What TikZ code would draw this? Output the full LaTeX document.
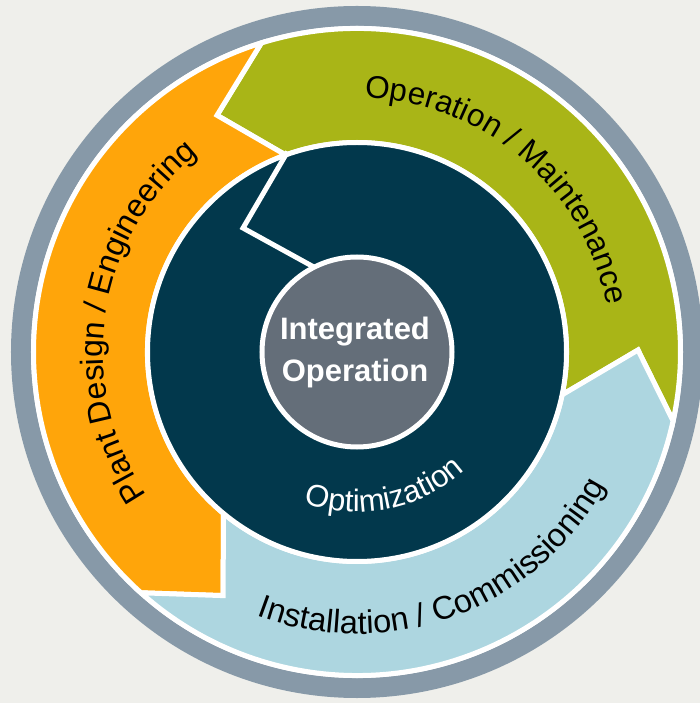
\documentclass[tikz,border=0pt]{standalone}
\usepackage{fontspec}
\setmainfont{Liberation Sans}
\usetikzlibrary{decorations.text}
\definecolor{bg}{HTML}{EFEFEB}
\definecolor{ringgray}{HTML}{8799A8}
\definecolor{cgreen}{HTML}{A9B517}
\definecolor{corange}{HTML}{FFA50A}
\definecolor{cblue}{HTML}{ADD6E0}
\definecolor{cdark}{HTML}{02384C}
\definecolor{cgray}{HTML}{646E79}
\tikzset{
  seg/.style={draw=white, line width=5pt, line join=miter},
  ringtext/.style={decorate, decoration={text along path, text align=center, text color=#1}},
}
\begin{document}
\begin{tikzpicture}[x=1pt,y=1pt]
\useasboundingbox (-357,-351) rectangle (343,352);
\clip (-357,-351) rectangle (343,352);
\fill[bg] (-357,-351) rectangle (343,352);
\fill[ringgray] (0,0) circle[radius=346];
\fill[white] (0,0) circle[radius=326];
% green segment
\filldraw[seg, fill=cgreen] (-12.3:323.5) -- (0.4:281) -- (-11.8:209.5)
  arc[start angle=-11.8, end angle=109.9, radius=209.5] -- (120.6:275) -- (107.2:323.5)
  arc[start angle=107.2, end angle=-12.3, radius=323.5] -- cycle;
% orange segment
\filldraw[seg, fill=corange] (107.2:323.5) -- (120.6:275) -- (109.9:209.5)
  arc[start angle=109.9, end angle=230.4, radius=209.5] -- (241.2:278) -- (228.1:323.5)
  arc[start angle=228.1, end angle=107.2, radius=323.5] -- cycle;
% blue segment
\filldraw[seg, fill=cblue] (228.1:323.5) -- (241.2:278) -- (230.4:209.5)
  arc[start angle=230.4, end angle=348.2, radius=209.5] -- (360.4:281) -- (347.7:323.5)
  arc[start angle=347.7, end angle=228.1, radius=323.5] -- cycle;
% dark ring
\filldraw[seg, fill=cdark] (0,0) circle[radius=209.5];
\draw[seg] (109.1:212) -- (132.6:168.4) -- (116.8:95);
% centre
\filldraw[seg, fill=cgray] (0,0) circle[radius=95];
\node[text=white, font=\bfseries\fontsize{31}{36}\selectfont, anchor=base] (l1) at (-2,12) {Integrated};
\node[text=white, font=\bfseries\fontsize{31}{36}\selectfont, anchor=base] (l2) at (-2,-30) {Operation};
% ring texts
\path[ringtext=black, decoration={text={|\fontsize{31.5}{36}\selectfont|Operation / Maintenance}}]
  (119.4:254) arc[start angle=119.4, end angle=-20.6, radius=254];
\path[ringtext=black, decoration={text={|\fontsize{32}{36}\selectfont|Plant Design / Engineering}}]
  (241.5:254) arc[start angle=241.5, end angle=101.5, radius=254];
\path[ringtext=black, decoration={text={|\fontsize{32.6}{36}\selectfont|Installation / Commissioning}}]
  (220.4:282) arc[start angle=220.4, end angle=360.4, radius=282];
\path[ringtext=white, decoration={text={|\fontsize{31}{36}\selectfont|Optimization}}]
  (211.5:160) arc[start angle=211.5, end angle=351.5, radius=160];
\end{tikzpicture}
\end{document}
